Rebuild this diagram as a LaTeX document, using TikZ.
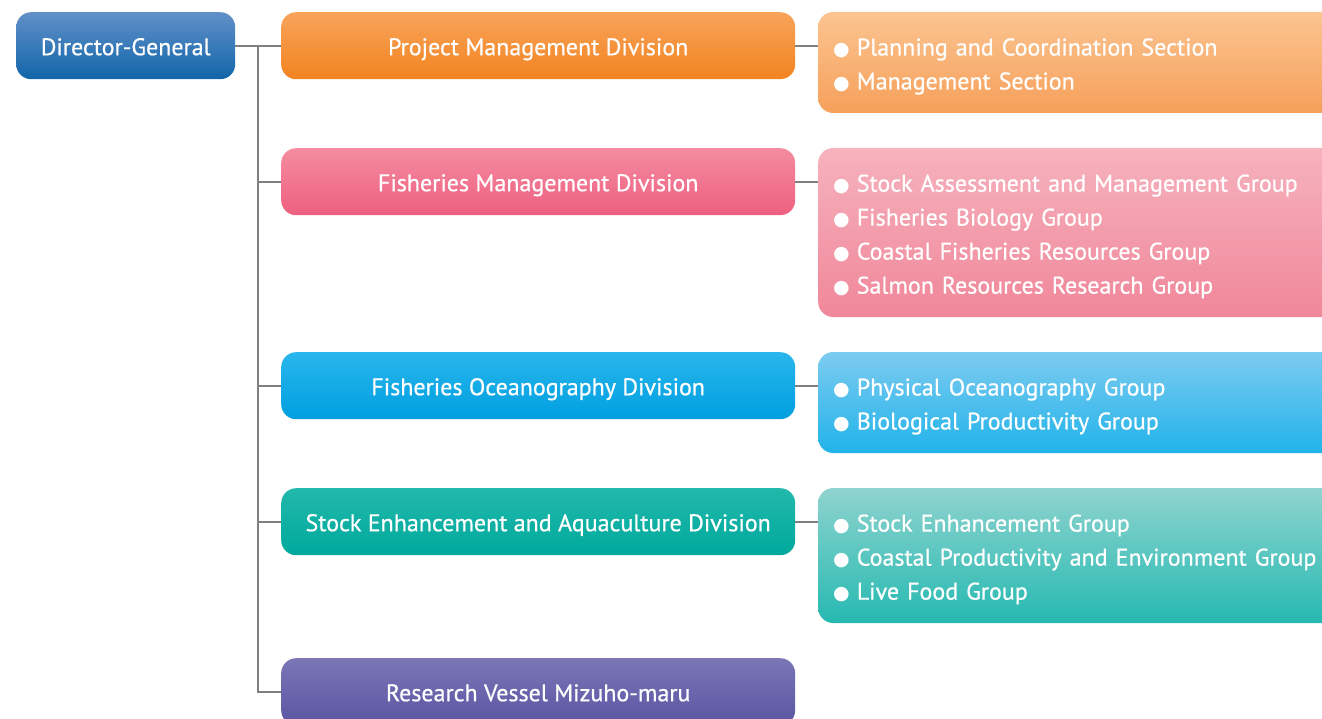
\documentclass[tikz,border=0pt]{standalone}
\usepackage{fontspec}
\setmainfont{PT Sans}[FakeBold=0.6,BoldFont={PT Sans}]
\newfontfamily\symfont{DejaVu Sans}
\usetikzlibrary{positioning}
\definecolor{dgTop}{HTML}{6190C8}
\definecolor{dgBot}{HTML}{1165A9}
\definecolor{pmTop}{HTML}{F7A35A}
\definecolor{pmBot}{HTML}{F38420}
\definecolor{pmuTop}{HTML}{FBC491}
\definecolor{pmuBot}{HTML}{F6A05A}
\definecolor{fmTop}{HTML}{F48CA0}
\definecolor{fmBot}{HTML}{EE5F80}
\definecolor{fmuTop}{HTML}{F6B2BD}
\definecolor{fmuBot}{HTML}{F0879A}
\definecolor{foTop}{HTML}{29B6EC}
\definecolor{foBot}{HTML}{009FE0}
\definecolor{fouTop}{HTML}{7DCBF0}
\definecolor{fouBot}{HTML}{21B3EA}
\definecolor{seTop}{HTML}{22B8AB}
\definecolor{seBot}{HTML}{00A99D}
\definecolor{seuTop}{HTML}{8FD3CF}
\definecolor{seuBot}{HTML}{25B9B1}
\definecolor{rvTop}{HTML}{7B76B6}
\definecolor{rvBot}{HTML}{5B55A3}
\definecolor{linegray}{HTML}{808080}
\newcommand{\dotitem}{{\symfont\fontsize{19}{34}\selectfont ●}\hspace{7pt}}
\newcommand{\firstitem}{\rule{0pt}{25pt}\dotitem}
\begin{document}
\begin{tikzpicture}[x=1pt,y=-1pt,
        box/.style={rounded corners=15pt, text=white, inner sep=0pt,
          font=\fontsize{24}{34}\selectfont\bfseries},
        head/.style={box, anchor=north west, minimum width=219pt, minimum height=67pt,
          text height=19pt, text depth=0pt},
        division/.style={box, anchor=north west, minimum width=514pt, minimum height=67pt,
          text height=19pt, text depth=0pt},
        unit/.style={box, anchor=west, minimum width=530pt, text width=500pt,
          align=left, inner xsep=15pt},
        link/.style={draw=linegray, line width=2pt}]
    \useasboundingbox (0,0) rectangle (1322,719);
    \clip (0,0) rectangle (1322,719);
    % head and divisions
    \node[head, top color=dgTop, bottom color=dgBot] (dg) at (16,12) {Director-General};
    \node[division, top color=pmTop, bottom color=pmBot] (pm) at (281,12) {Project Management Division};
    \node[division, top color=fmTop, bottom color=fmBot] (fm) at (281,148) {Fisheries Management Division};
    \node[division, top color=foTop, bottom color=foBot] (fo) at (281,352) {Fisheries Oceanography Division};
    \node[division, top color=seTop, bottom color=seBot] (se) at (281,488) {Stock Enhancement and Aquaculture Division};
    \node[division, top color=rvTop, bottom color=rvBot] (rv) at (281,658) {Research Vessel Mizuho-maru};
    % sections and groups
    \node[unit, minimum height=101pt, top color=pmuTop, bottom color=pmuBot] (pmu) at (818,62.5)
      {\firstitem Planning and Coordination Section\\
       \dotitem Management Section};
    \node[unit, minimum height=169pt, top color=fmuTop, bottom color=fmuBot] (fmu) at (818,232.5)
      {\firstitem Stock Assessment and Management Group\\
       \dotitem Fisheries Biology Group\\
       \dotitem Coastal Fisheries Resources Group\\
       \dotitem Salmon Resources Research Group};
    \node[unit, minimum height=101pt, top color=fouTop, bottom color=fouBot] (fou) at (818,402.5)
      {\firstitem Physical Oceanography Group\\
       \dotitem Biological Productivity Group};
    \node[unit, minimum height=135pt, top color=seuTop, bottom color=seuBot] (seu) at (818,555.5)
      {\firstitem Stock Enhancement Group\\
       \dotitem Coastal Productivity and Environment Group\\
       \dotitem Live Food Group};
    % connectors
    \coordinate (trunk) at (258,45.5);
    \draw[link] (dg.east) -- (pm.west);
    \draw[link] (trunk) |- (rv.west);
    \draw[link] (trunk |- fm.west) -- (fm.west);
    \draw[link] (trunk |- fo.west) -- (fo.west);
    \draw[link] (trunk |- se.west) -- (se.west);
    \draw[link] (pm.east) -- (pm.east -| pmu.west);
    \draw[link] (fm.east) -- (fm.east -| fmu.west);
    \draw[link] (fo.east) -- (fo.east -| fou.west);
    \draw[link] (se.east) -- (se.east -| seu.west);
\end{tikzpicture}
\end{document}
